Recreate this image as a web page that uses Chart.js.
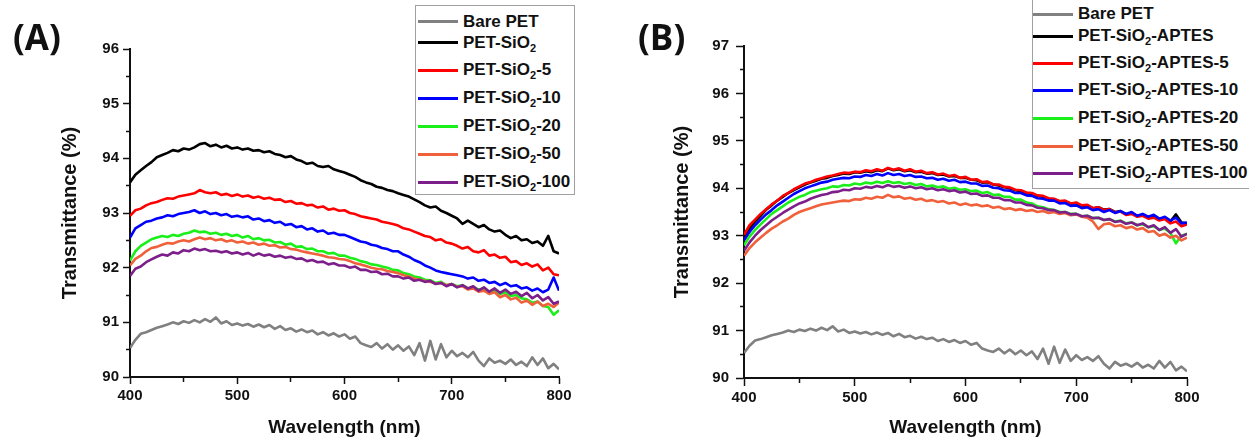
<!DOCTYPE html>
<html><head><meta charset="utf-8">
<script src="https://cdn.jsdelivr.net/npm/chart.js@4.4.1/dist/chart.umd.min.js"></script>
<style>
html,body{margin:0;padding:0;background:#fff;width:1249px;height:439px;overflow:hidden;position:relative;font-family:"Liberation Sans",Arial,sans-serif;}
canvas{position:absolute;top:0;}
#cA{left:0}
#cB{left:620px}
.panel{position:absolute;font-family:"Open Sans",sans-serif;font-weight:bold;font-size:35px;line-height:35px;color:#111;}
.legend{position:absolute;border:1px solid #a0a0a0;background:#fff;}
.row{position:absolute;left:0;height:20px;display:flex;align-items:center;white-space:nowrap;font-weight:bold;font-size:17px;color:#111;font-family:"Liberation Sans",Arial,sans-serif;}
.swatch{width:40px;height:3px;margin-right:5px;}
.row sub{font-size:11px;line-height:0;vertical-align:-4px;}
</style></head>
<body>
<canvas id="cA" width="620" height="439"></canvas>
<canvas id="cB" width="629" height="439"></canvas>
<div class="panel" style="left:13px;top:19px">(A)</div>
<div class="panel" style="left:638px;top:19px">(B)</div>
<div class="legend" id="legA" style="left:415px;top:5px;width:158px;height:188px"></div>
<div class="legend" id="legB" style="left:1032px;top:-3px;width:240px;height:190px"></div>
<script>
const wavelength = [400,405,410,415,420,425,430,435,440,445,
450,455,460,465,470,475,480,485,490,495,
500,505,510,515,520,525,530,535,540,545,
550,555,560,565,570,575,580,585,590,595,
600,605,610,615,620,625,630,635,640,645,
650,655,660,665,670,675,680,685,690,695,
700,705,710,715,720,725,730,735,740,745,
750,755,760,765,770,775,780,785,790,795,
800];

const xTicksMajor = [400,500,600,700,800];
const yRangeA = [90,96];
const yRangeB = [90,97];

const labelsA = ['Bare PET','PET-SiO₂','PET-SiO₂-5','PET-SiO₂-10','PET-SiO₂-20','PET-SiO₂-50','PET-SiO₂-100'];
const labelsB = ['Bare PET','PET-SiO₂-APTES','PET-SiO₂-APTES-5','PET-SiO₂-APTES-10','PET-SiO₂-APTES-20','PET-SiO₂-APTES-50','PET-SiO₂-APTES-100'];
const seriesColors = ['#808080','#000000','#ff0000','#0000ff','#1aef1a','#f0603a','#7d1f8a'];

const barePET = [90.53,90.68,90.79,90.82,90.86,90.90,90.93,90.96,91.00,90.97,
91.02,90.99,91.04,91.00,91.06,91.01,91.09,90.98,91.02,90.95,
90.98,90.94,90.97,90.92,90.96,90.91,90.95,90.88,90.93,90.86,
90.89,90.83,90.87,90.82,90.85,90.78,90.82,90.76,90.80,90.74,
90.78,90.70,90.74,90.62,90.58,90.55,90.62,90.52,90.60,90.50,
90.58,90.48,90.56,90.40,90.62,90.30,90.66,90.32,90.60,90.36,
90.48,90.38,90.44,90.36,90.46,90.30,90.20,90.34,90.26,90.30,
90.24,90.32,90.22,90.28,90.20,90.36,90.22,90.34,90.16,90.24,
90.14];

const sio2 = [93.56,93.70,93.78,93.86,93.93,94.02,94.06,94.10,94.15,94.13,
94.18,94.16,94.20,94.26,94.28,94.22,94.25,94.20,94.23,94.18,
94.20,94.16,94.18,94.14,94.15,94.11,94.13,94.08,94.06,94.02,
94.04,93.98,93.95,93.90,93.92,93.86,93.84,93.86,93.80,93.77,
93.74,93.70,93.66,93.60,93.56,93.53,93.48,93.46,93.42,93.40,
93.36,93.33,93.30,93.25,93.20,93.14,93.10,93.12,93.04,93.00,
92.95,92.90,92.80,92.86,92.80,92.74,92.78,92.70,92.66,92.68,
92.60,92.54,92.58,92.50,92.52,92.45,92.48,92.40,92.58,92.30,
92.26];

const sio2_5 = [92.95,93.05,93.08,93.14,93.18,93.20,93.24,93.27,93.26,93.30,
93.32,93.34,93.36,93.42,93.38,93.36,93.38,93.33,93.35,93.31,
93.34,93.30,93.32,93.28,93.30,93.26,93.28,93.24,93.25,93.20,
93.22,93.17,93.18,93.14,93.15,93.10,93.12,93.06,93.08,93.04,
93.05,93.00,92.98,92.94,92.92,92.90,92.88,92.84,92.82,92.80,
92.77,92.72,92.70,92.66,92.62,92.58,92.56,92.50,92.52,92.46,
92.44,92.40,92.35,92.38,92.30,92.28,92.32,92.22,92.24,92.18,
92.20,92.10,92.12,92.05,92.08,92.02,92.06,91.95,92.00,91.88,
91.86];

const sio2_10 = [92.55,92.72,92.78,92.84,92.86,92.90,92.92,92.96,92.94,92.98,
93.00,93.02,93.05,93.00,93.03,92.98,93.00,92.96,92.98,92.93,
92.95,92.92,92.94,92.88,92.90,92.85,92.87,92.82,92.84,92.78,
92.80,92.74,92.76,92.70,92.72,92.66,92.68,92.62,92.64,92.60,
92.60,92.56,92.52,92.48,92.46,92.42,92.40,92.36,92.34,92.30,
92.30,92.24,92.20,92.14,92.10,92.04,92.00,91.95,91.92,91.90,
91.88,91.86,91.84,91.80,91.82,91.76,91.78,91.72,91.74,91.68,
91.72,91.66,91.68,91.62,91.64,91.58,91.62,91.55,91.60,91.82,
91.58];

const sio2_20 = [92.13,92.30,92.40,92.46,92.52,92.55,92.58,92.56,92.60,92.58,
92.62,92.64,92.68,92.65,92.66,92.62,92.64,92.60,92.62,92.58,
92.60,92.55,92.58,92.52,92.54,92.50,92.51,92.46,92.47,92.42,
92.44,92.38,92.39,92.34,92.35,92.30,92.30,92.26,92.27,92.22,
92.22,92.18,92.16,92.12,92.10,92.06,92.05,92.02,92.00,91.96,
91.95,91.90,91.88,91.84,91.82,91.78,91.77,91.72,91.74,91.68,
91.70,91.66,91.68,91.62,91.64,91.60,91.62,91.55,91.58,91.52,
91.55,91.48,91.50,91.44,91.42,91.36,91.38,91.30,91.28,91.14,
91.22];

const sio2_50 = [92.04,92.16,92.22,92.30,92.36,92.38,92.42,92.45,92.44,92.48,
92.50,92.48,92.52,92.55,92.52,92.54,92.50,92.52,92.48,92.50,
92.46,92.48,92.44,92.46,92.42,92.44,92.40,92.41,92.37,92.38,
92.34,92.33,92.30,92.28,92.26,92.24,92.22,92.19,92.18,92.16,
92.15,92.12,92.08,92.06,92.03,92.00,91.98,91.97,91.94,91.92,
91.90,91.86,91.84,91.80,91.78,91.76,91.74,91.71,91.72,91.68,
91.70,91.65,91.66,91.60,91.62,91.56,91.58,91.52,91.55,91.46,
91.50,91.42,91.45,91.36,91.40,91.32,91.38,91.30,91.34,91.28,
91.36];

const sio2_100 = [91.85,91.98,92.02,92.10,92.15,92.20,92.24,92.22,92.28,92.26,
92.32,92.30,92.35,92.32,92.34,92.30,92.31,92.28,92.30,92.26,
92.28,92.24,92.27,92.22,92.26,92.22,92.24,92.20,92.22,92.18,
92.20,92.16,92.17,92.12,92.14,92.10,92.11,92.06,92.08,92.04,
92.04,92.00,92.02,91.96,91.96,91.92,91.93,91.88,91.89,91.84,
91.84,91.80,91.82,91.76,91.78,91.74,91.76,91.70,91.72,91.66,
91.70,91.64,91.68,91.62,91.66,91.58,91.64,91.56,91.62,91.54,
91.60,91.52,91.56,91.48,91.54,91.44,91.50,91.40,91.46,91.34,
91.38];

const aptes = [92.98,93.15,93.30,93.42,93.55,93.64,93.74,93.82,93.90,93.96,
94.02,94.08,94.12,94.16,94.20,94.22,94.26,94.28,94.31,94.30,
94.34,94.33,94.36,94.34,94.38,94.36,94.42,94.38,94.40,94.36,
94.38,94.34,94.35,94.31,94.32,94.28,94.29,94.25,94.26,94.22,
94.22,94.18,94.17,94.12,94.13,94.08,94.06,94.02,94.00,93.96,
93.94,93.90,93.88,93.84,93.82,93.78,93.77,93.72,93.72,93.68,
93.68,93.63,93.64,93.58,93.60,93.55,93.56,93.50,93.52,93.45,
93.48,93.42,93.44,93.38,93.42,93.34,93.38,93.30,93.45,93.28,
93.26];

const aptes_5 = [93.02,93.22,93.34,93.46,93.56,93.66,93.74,93.84,93.90,93.98,
94.04,94.10,94.13,94.18,94.21,94.25,94.27,94.30,94.33,94.32,
94.35,94.34,94.38,94.36,94.40,94.37,94.43,94.39,94.42,94.37,
94.40,94.35,94.37,94.32,94.34,94.29,94.31,94.26,94.28,94.22,
94.24,94.18,94.19,94.13,94.14,94.08,94.08,94.03,94.02,93.97,
93.96,93.91,93.90,93.85,93.84,93.79,93.78,93.73,93.74,93.68,
93.70,93.64,93.65,93.58,93.60,93.54,93.56,93.49,93.51,93.44,
93.46,93.40,93.42,93.36,93.38,93.32,93.35,93.26,93.30,93.20,
93.24];

const aptes_10 = [92.90,93.08,93.22,93.34,93.45,93.54,93.64,93.72,93.80,93.88,
93.94,94.00,94.04,94.08,94.12,94.14,94.18,94.20,94.22,94.21,
94.25,94.24,94.28,94.26,94.30,94.27,94.32,94.28,94.30,94.26,
94.28,94.24,94.25,94.21,94.22,94.18,94.20,94.16,94.18,94.13,
94.14,94.10,94.10,94.05,94.06,94.01,94.00,93.96,93.95,93.90,
93.90,93.85,93.84,93.79,93.78,93.74,93.74,93.68,93.69,93.63,
93.64,93.58,93.60,93.54,93.56,93.50,93.54,93.48,93.52,93.46,
93.50,93.42,93.46,93.40,93.44,93.36,93.40,93.32,93.38,93.26,
93.28];

const aptes_20 = [92.80,92.98,93.12,93.24,93.35,93.46,93.54,93.62,93.70,93.76,
93.82,93.86,93.92,93.95,93.98,94.00,94.04,94.03,94.07,94.06,
94.10,94.08,94.12,94.10,94.14,94.11,94.15,94.11,94.13,94.09,
94.11,94.07,94.09,94.04,94.06,94.02,94.04,93.99,94.01,93.97,
93.98,93.94,93.95,93.90,93.92,93.86,93.87,93.82,93.82,93.76,
93.76,93.70,93.68,93.62,93.60,93.56,93.54,93.50,93.50,93.46,
93.46,93.41,93.42,93.37,93.38,93.33,93.35,93.30,93.32,93.26,
93.28,93.22,93.24,93.18,93.20,93.12,93.15,93.06,92.84,93.00,
93.04];

const aptes_50 = [92.58,92.74,92.86,92.96,93.06,93.15,93.22,93.30,93.36,93.44,
93.50,93.54,93.58,93.62,93.66,93.68,93.70,93.72,93.74,93.73,
93.77,93.76,93.80,93.78,93.82,93.80,93.86,93.81,93.83,93.78,
93.80,93.76,93.78,93.73,93.75,93.71,93.73,93.68,93.70,93.65,
93.68,93.64,93.66,93.62,93.64,93.59,93.61,93.56,93.58,93.54,
93.56,93.52,93.54,93.50,93.52,93.48,93.50,93.46,93.48,93.43,
93.45,93.40,93.38,93.30,93.14,93.24,93.26,93.20,93.22,93.16,
93.19,93.13,93.16,93.08,93.10,93.00,93.04,92.96,93.00,92.90,
92.96];

const aptes_100 = [92.68,92.86,93.00,93.12,93.22,93.32,93.40,93.48,93.55,93.62,
93.68,93.72,93.78,93.82,93.86,93.88,93.92,93.93,93.97,93.96,
94.00,93.99,94.03,94.01,94.05,94.02,94.07,94.03,94.05,94.01,
94.04,94.00,94.02,93.98,94.00,93.96,93.98,93.94,93.96,93.91,
93.93,93.88,93.89,93.84,93.85,93.80,93.80,93.75,93.75,93.70,
93.70,93.65,93.64,93.59,93.58,93.54,93.54,93.49,93.50,93.45,
93.46,93.41,93.42,93.37,93.38,93.33,93.35,93.29,93.31,93.25,
93.28,93.22,93.26,93.18,93.22,93.12,93.18,93.06,93.14,92.98,
93.04];

const F = '"Liberation Sans", Arial, sans-serif';
const INK = '#111111';

function makeDatasets(labels, series) {
  return series.map((vals, i) => ({
    label: labels[i],
    data: vals.map((v, j) => ({x: wavelength[j], y: v})),
    borderColor: seriesColors[i],
    backgroundColor: seriesColors[i],
    borderWidth: 2.6,
    borderJoinStyle: 'round',
    pointRadius: 0,
    tension: 0,
    fill: false,
    order: series.length - i
  }));
}

function isInt(v) { return Math.abs(v - Math.round(v)) < 1e-6; }

function makeOptions(c) {
  return {
    responsive: false,
    animation: false,
    devicePixelRatio: 1,
    layout: {padding: {left: c.padL, right: c.padR, top: c.padT, bottom: 0}},
    plugins: {legend: {display: false}, tooltip: {enabled: false}},
    scales: {
      x: {
        type: 'linear', min: 400, max: 800,
        afterFit: s => { s.height = c.xH; },
        ticks: {stepSize: 50, autoSkip: false, maxRotation: 0, padding: 3, color: INK,
          font: {family: F, size: 15, weight: 'bold'},
          callback: v => xTicksMajor.includes(v) ? String(v) : ''},
        grid: {drawOnChartArea: false, drawTicks: true, tickLength: c.tl, tickColor: INK, tickWidth: 1.5,
          tickBorderDash: ctx => (ctx.tick && !xTicksMajor.includes(ctx.tick.value)) ? [4, 100] : []},
        border: {display: true, color: INK, width: 2},
        title: {display: true, text: 'Wavelength (nm)', color: INK,
          font: {family: F, size: 19, weight: 'bold'}, padding: {top: 0, bottom: 0}}
      },
      y: {
        type: 'linear', min: c.yr[0], max: c.yr[1],
        afterFit: s => { s.width = c.yW; },
        ticks: {stepSize: 0.5, autoSkip: false, padding: c.tp, color: INK,
          font: {family: F, size: 15, weight: 'bold'},
          callback: v => isInt(v) ? String(Math.round(v)) : ''},
        grid: {drawOnChartArea: false, drawTicks: true, tickLength: c.tl, tickColor: INK, tickWidth: 1.5,
          tickBorderDash: ctx => (ctx.tick && !isInt(ctx.tick.value)) ? [0, c.tl - 4, 4, 100] : []},
        border: {display: true, color: INK, width: 2},
        title: {display: true, text: 'Transmittance (%)', color: INK,
          font: {family: F, size: 20, weight: 'bold'}, padding: {top: 0, bottom: 0}}
      }
    }
  };
}

const chartA = new Chart(document.getElementById('cA'), {
  type: 'line',
  data: {datasets: makeDatasets(labelsA, [barePET, sio2, sio2_5, sio2_10, sio2_20, sio2_50, sio2_100])},
  options: makeOptions({padL: 58, padR: 61, padT: 49, xH: 62, yW: 72, yr: yRangeA, tl: 7, tp: 4})
});

const chartB = new Chart(document.getElementById('cB'), {
  type: 'line',
  data: {datasets: makeDatasets(labelsB, [barePET, aptes, aptes_5, aptes_10, aptes_20, aptes_50, aptes_100])},
  options: makeOptions({padL: 50, padR: 62, padT: 46, xH: 61, yW: 74, yr: yRangeB, tl: 8, tp: 7})
});

function buildLegend(el, chart, centers, swatchLeft) {
  chart.data.datasets.forEach((ds, i) => {
    const row = document.createElement('div');
    row.className = 'row';
    row.style.top = (centers[i] - 10) + 'px';
    row.style.left = swatchLeft + 'px';
    const sw = document.createElement('div');
    sw.className = 'swatch';
    sw.style.background = ds.borderColor;
    row.appendChild(sw);
    const txt = document.createElement('span');
    const parts = ds.label.split('₂');
    parts.forEach((p, k) => {
      txt.appendChild(document.createTextNode(p));
      if (k < parts.length - 1) {
        const sub = document.createElement('sub');
        sub.textContent = '2';
        txt.appendChild(sub);
      }
    });
    row.appendChild(txt);
    el.appendChild(row);
  });
}
buildLegend(document.getElementById('legA'), chartA, [15.7, 36.7, 64, 92, 120, 148, 176], 2);
buildLegend(document.getElementById('legB'), chartB, [16, 38, 65, 92, 120, 148, 175], 0);
</script>
</body></html>
